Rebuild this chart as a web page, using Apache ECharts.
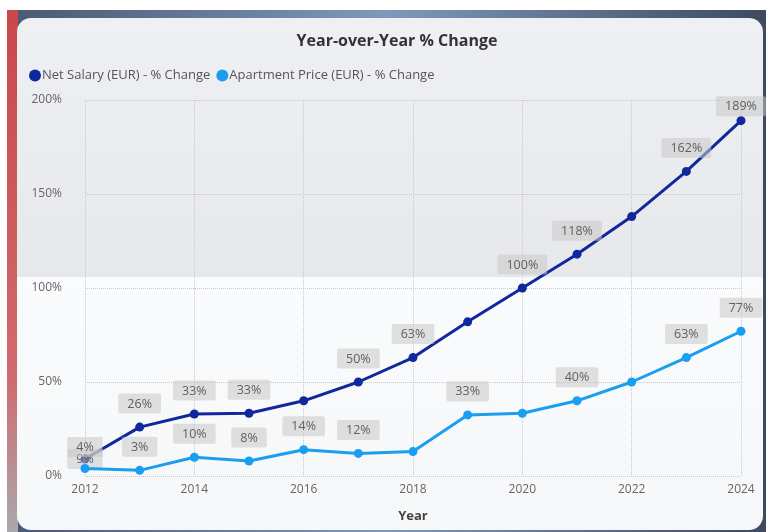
<!DOCTYPE html>
<html>
<head>
<meta charset="utf-8">
<script src="https://cdn.jsdelivr.net/npm/echarts@6/dist/echarts.min.js"></script>
<style>
html,body{margin:0;padding:0;background:#ffffff;}
#main{width:766px;height:532px;}
</style>
</head>
<body>
<div id="main"></div>
<script>
const years = [2012, 2013, 2014, 2015, 2016, 2017, 2018, 2019, 2020, 2021, 2022, 2023, 2024];
const netSalary = [9, 26, 33, 33.4, 40, 50, 63, 82, 100, 118, 138, 162, 189];
const apartmentPrice = [4, 3, 10, 8, 14, 12, 13, 32.5, 33.4, 40, 50, 63, 77];
const netLabelShown = [true, true, true, true, false, true, true, false, true, true, false, true, true];
const aptLabelShown = [true, true, true, true, true, true, false, true, false, true, false, true, true];
const yTicks = [0, 50, 100, 150, 200];
const seriesNames = ['Net Salary (EUR) - % Change', 'Apartment Price (EUR) - % Change'];

const FONT = '"Open Sans", "Noto Sans", sans-serif';
const labelBase = {
  position: 'top',
  distance: 9,
  color: '#606060',
  fontSize: 12.5,
  fontFamily: FONT,
  backgroundColor: 'rgba(200,200,200,0.55)',
  padding: [4, 9, 3, 9],
  borderRadius: 2,
  formatter: p => Math.round(p.value[1]) + '%'
};

function buildData(vals, shown, special) {
  return years.map((y, i) => {
    const item = { value: [y, vals[i]], label: { show: shown[i] } };
    if (special && special[i]) Object.assign(item.label, special[i]);
    return item;
  });
}

const chart = echarts.init(document.getElementById('main'), null, { renderer: 'canvas' });
chart.setOption({
  animation: false,
  graphic: [
    { type: 'rect', z: -10, shape: { x: 7, y: 10, width: 759, height: 522 },
      style: { fill: new echarts.graphic.LinearGradient(0, 0, 1, 0, [
        { offset: 0, color: '#4a5873' }, { offset: 0.5, color: '#7e98bd' }, { offset: 1, color: '#3e4a60' }]) } },
    { type: 'rect', z: -9, shape: { x: 7, y: 10, width: 11, height: 522 },
      style: { fill: new echarts.graphic.LinearGradient(0, 0, 0, 1, [
        { offset: 0, color: '#c9484c' }, { offset: 0.7, color: '#d06a6e' }, { offset: 1, color: '#a8a9ad' }]) } },
    { type: 'rect', z: -8, shape: { x: 17, y: 18, width: 746, height: 512, r: 14 },
      style: { fill: new echarts.graphic.LinearGradient(0, 0, 0, 1, [
        { offset: 0, color: '#eef0f3' }, { offset: 0.505, color: '#e7e8eb' },
        { offset: 0.506, color: '#fafbfc' }, { offset: 1, color: '#f6f7f9' }]) } }
  ],
  title: {
    text: 'Year-over-Year % Change',
    left: 392, top: 28, textAlign: 'center',
    textStyle: { fontFamily: FONT, fontSize: 16, fontWeight: 'bold', color: '#333333' }
  },
  legend: {
    left: 24, top: 64,
    itemGap: 6, itemWidth: 12, itemHeight: 12,
    icon: 'circle',
    textStyle: { fontFamily: FONT, fontSize: 13, color: '#555555', padding: [0, 0, 0, -4] },
    data: seriesNames
  },
  grid: { left: 85, right: 25, top: 100, bottom: 56, containLabel: false },
  xAxis: {
    type: 'value', min: 2012, max: 2024, interval: 2,
    name: 'Year', nameLocation: 'middle', nameGap: 34,
    nameTextStyle: { fontFamily: FONT, fontSize: 13, fontWeight: 'bold', color: '#444444' },
    axisLine: { show: false }, axisTick: { show: false },
    axisLabel: { fontFamily: FONT, fontSize: 12, color: '#666666', margin: 8, formatter: v => String(v) },
    splitLine: { show: true, lineStyle: { type: 'dotted', color: '#c8c8c8', width: 1 } }
  },
  yAxis: {
    type: 'value', min: 0, max: 200, interval: 50,
    axisLine: { show: false }, axisTick: { show: false },
    axisLabel: { fontFamily: FONT, fontSize: 12, color: '#666666', margin: 23,
      formatter: v => (yTicks.includes(v) ? v + '%' : '') },
    splitLine: { show: true, lineStyle: { type: 'dotted', color: '#c8c8c8', width: 1 } }
  },
  series: [
    {
      name: seriesNames[0], type: 'line', color: '#10289c',
      symbol: 'circle', symbolSize: 9, lineStyle: { width: 3 }, z: 3,
      label: labelBase,
      data: buildData(netSalary, netLabelShown, { 0: { position: 'inside' }, 12: { offset: [0, 9] } })
    },
    {
      name: seriesNames[1], type: 'line', color: '#1a9ff0',
      symbol: 'circle', symbolSize: 9, lineStyle: { width: 3 }, z: 4,
      label: labelBase,
      data: buildData(apartmentPrice, aptLabelShown, { 0: { offset: [0, 2] } })
    }
  ]
});
</script>
</body>
</html>
